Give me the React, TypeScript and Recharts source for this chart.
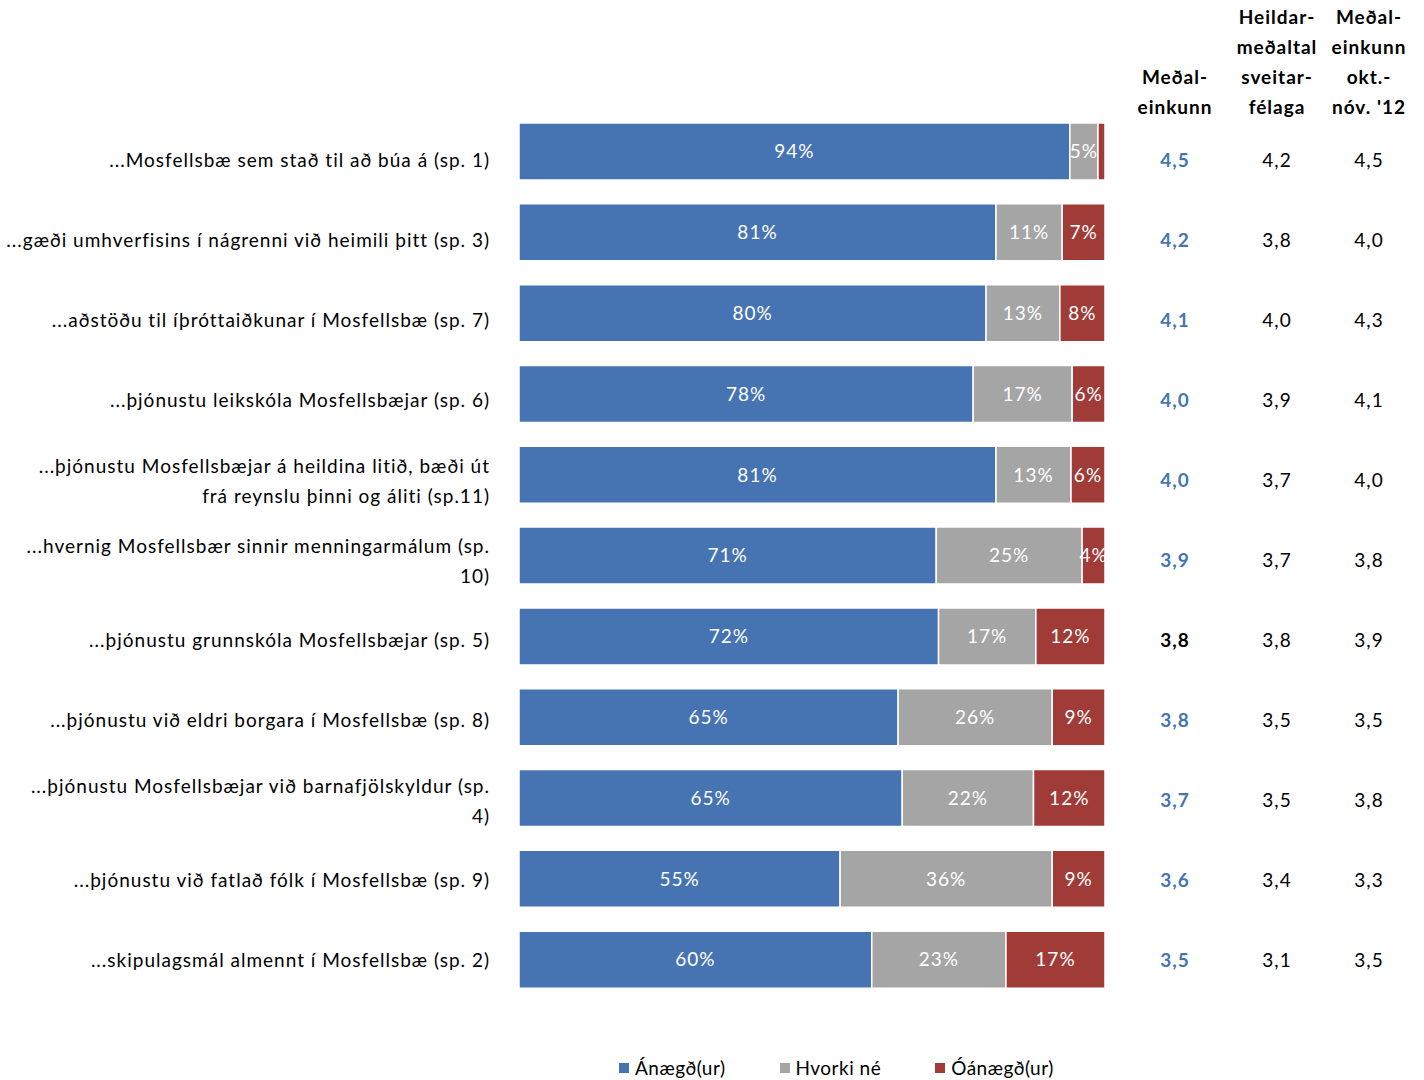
import React from 'react'
import { BarChart, Bar, XAxis, YAxis, LabelList } from 'recharts'

const categories = [
  '...Mosfellsbæ sem stað til að búa á (sp. 1)',
  '...gæði umhverfisins í nágrenni við heimili þitt (sp. 3)',
  '...aðstöðu til íþróttaiðkunar í Mosfellsbæ (sp. 7)',
  '...þjónustu leikskóla Mosfellsbæjar (sp. 6)',
  '...þjónustu Mosfellsbæjar á heildina litið, bæði út|frá reynslu þinni og áliti (sp.11)',
  '...hvernig Mosfellsbær sinnir menningarmálum (sp.|10)',
  '...þjónustu grunnskóla Mosfellsbæjar (sp. 5)',
  '...þjónustu við eldri borgara í Mosfellsbæ (sp. 8)',
  '...þjónustu Mosfellsbæjar við barnafjölskyldur (sp.|4)',
  '...þjónustu við fatlað fólk í Mosfellsbæ (sp. 9)',
  '...skipulagsmál almennt í Mosfellsbæ (sp. 2)',
]

const anaegd = [94.0, 81.4, 79.7, 77.5, 81.4, 71.2, 71.6, 64.7, 65.4, 54.8, 60.2]
const hvorki = [4.8, 11.3, 12.6, 16.9, 12.8, 24.9, 16.6, 26.3, 22.4, 36.2, 22.9]
const oanaegd = [1.2, 7.3, 7.7, 5.6, 5.8, 3.9, 11.8, 9.0, 12.2, 9.0, 16.9]

const medaleinkunn = ['4,5', '4,2', '4,1', '4,0', '4,0', '3,9', '3,8', '3,8', '3,7', '3,6', '3,5']
const highlighted = [true, true, true, true, true, true, false, true, true, true, true]
const heildarmedaltal = ['4,2', '3,8', '4,0', '3,9', '3,7', '3,7', '3,8', '3,5', '3,5', '3,4', '3,1']
const oktNov12 = ['4,5', '4,0', '4,3', '4,1', '4,0', '3,8', '3,9', '3,5', '3,8', '3,3', '3,5']

const seriesNames = ['Ánægð(ur)', 'Hvorki né', 'Óánægð(ur)']
const seriesKeys = ['anaegd', 'hvorki', 'oanaegd']
const colors = ['#4674B3', '#A5A5A5', '#A03B38']

const headers = [
  { x: 1175, lines: ['Meðal-', 'einkunn'] },
  { x: 1277, lines: ['Heildar-', 'meðaltal', 'sveitar-', 'félaga'] },
  { x: 1369, lines: ['Meðal-', 'einkunn', 'okt.-', 'nóv. \'12'] },
]

const FONT = 'Lato, "Open Sans", sans-serif'
const SPACING = 1

const data = categories.map((label, i) => ({
  label,
  anaegd: anaegd[i],
  hvorki: hvorki[i],
  oanaegd: oanaegd[i],
}))

const CategoryTick = ({ y, payload }: any) => {
  const i = payload.index
  const lines = String(payload.value).split('|')
  // text rows in the source sit on a slightly tighter pitch than the bars
  const yy = y + 11 - 0.8 * i
  return (
    <g style={{ fontFamily: FONT, letterSpacing: SPACING }}>
      {lines.map((ln, k) => (
        <text
          key={k}
          x={490}
          y={lines.length > 1 ? yy - 14 + k * 30 : yy}
          textAnchor="end"
          dominantBaseline="middle"
          fontSize={19}
          fill="#000"
        >
          {ln}
        </text>
      ))}
      <text x={1175} y={yy} textAnchor="middle" dominantBaseline="middle" fontSize={19}
        fontWeight="bold" fill={highlighted[i] ? '#4674B3' : '#000'}>
        {medaleinkunn[i]}
      </text>
      <text x={1277} y={yy} textAnchor="middle" dominantBaseline="middle" fontSize={19} fill="#000">
        {heildarmedaltal[i]}
      </text>
      <text x={1369} y={yy} textAnchor="middle" dominantBaseline="middle" fontSize={19} fill="#000">
        {oktNov12[i]}
      </text>
    </g>
  )
}

const PctLabel = ({ x, y, width, height, value }: any) => {
  if (value < 2) return null
  return (
    <text
      x={x + width / 2}
      y={y + height / 2 + 2}
      textAnchor="middle"
      dominantBaseline="middle"
      fill="#fff"
      fontSize={19}
      style={{ fontFamily: FONT, letterSpacing: SPACING }}
    >
      {Math.round(value)}%
    </text>
  )
}

export default function App() {
  return (
    <div style={{ position: 'absolute', left: 0, top: 0, width: 1424, height: 1080, background: '#fff', fontFamily: FONT, letterSpacing: SPACING }}>
      {headers.map((h) => (
        <div
          key={h.x}
          style={{
            position: 'absolute',
            left: h.x - 70,
            width: 140,
            top: 2 + (4 - h.lines.length) * 30,
            textAlign: 'center',
            fontWeight: 'bold',
            fontSize: 19,
            lineHeight: '30px',
          }}
        >
          {h.lines.map((l) => <div key={l}>{l}</div>)}
        </div>
      ))}

      <BarChart
        width={1424}
        height={1080}
        data={data}
        layout="vertical"
        margin={{ top: 111, right: 319, bottom: 80, left: 0 }}
      >
        <XAxis type="number" domain={[0, 100]} hide />
        <YAxis
          type="category"
          dataKey="label"
          width={519}
          axisLine={false}
          tickLine={false}
          interval={0}
          tick={<CategoryTick />}
        />
        {seriesKeys.map((k, i) => (
          <Bar
            key={k}
            dataKey={k}
            name={seriesNames[i]}
            stackId="a"
            fill={colors[i]}
            stroke="#fff"
            strokeWidth={1.5}
            barSize={57}
            isAnimationActive={false}
          >
            <LabelList dataKey={k} content={<PctLabel />} />
          </Bar>
        ))}
      </BarChart>

      <div style={{ position: 'absolute', left: 619, top: 1055, display: 'flex', gap: 54, fontSize: 19, lineHeight: '26px', letterSpacing: 0.5 }}>
        {seriesNames.map((n, i) => (
          <div key={n} style={{ display: 'flex', alignItems: 'center' }}>
            <span style={{ width: 10, height: 10, background: colors[i], marginRight: 6, display: 'inline-block' }} />
            <span>{n}</span>
          </div>
        ))}
      </div>
    </div>
  )
}
